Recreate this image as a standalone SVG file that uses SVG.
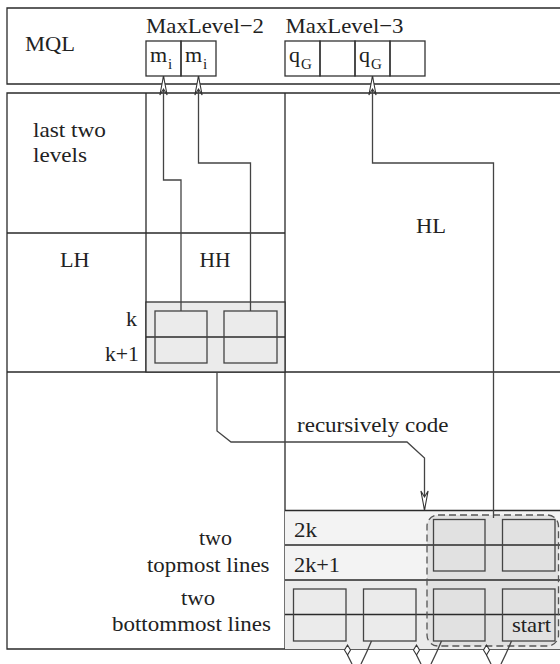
<svg xmlns="http://www.w3.org/2000/svg" width="560" height="664" viewBox="0 0 560 664" font-family="'Liberation Serif', 'Times New Roman', serif">
<defs>
<style>
text{font-family:'Liberation Serif','Times New Roman',serif;font-size:22px;fill:#222}
.st{fill:none;stroke:#2a2a2a;stroke-width:1.3}
.box{fill:none;stroke:#333;stroke-width:1.3}
.ib{fill:none;stroke:#444;stroke-width:1.3}
.cn{fill:none;stroke:#444;stroke-width:1.3}
.sub{font-size:15px}
</style>
<marker id="ah" markerUnits="userSpaceOnUse" markerWidth="30" markerHeight="30" refX="0" refY="0" orient="auto" overflow="visible">
<path d="M0,0 L-19,-3.6 L-13,0 L-19,3.6 Z" fill="#fff" stroke="#333" stroke-width="1.1" stroke-linejoin="miter"/>
</marker>
</defs>
<rect width="560" height="664" fill="#fff"/>

<g id="mql">
<path class="st" d="M561,8 H7 V84 H561"/>
<text x="25" y="51" textLength="50" lengthAdjust="spacingAndGlyphs">MQL</text>
<text x="146" y="33" textLength="118" lengthAdjust="spacingAndGlyphs">MaxLevel−2</text>
<text x="285.5" y="33" textLength="118" lengthAdjust="spacingAndGlyphs">MaxLevel−3</text>
</g>
<g id="mi-array">
<rect class="box" x="146" y="41" width="35" height="35"/>
<rect class="box" x="181" y="41" width="35" height="35"/>
<text x="150" y="62">m</text><text class="sub" x="168" y="69">i</text>
<text x="185" y="62">m</text><text class="sub" x="203" y="69">i</text>
</g>
<g id="qg-array">
<rect class="box" x="285" y="41" width="35" height="35"/>
<rect class="box" x="320" y="41" width="35" height="35"/>
<rect class="box" x="355" y="41" width="35" height="35"/>
<rect class="box" x="390" y="41" width="35" height="35"/>
<text x="289" y="62">q</text><text class="sub" x="301" y="69">G</text>
<text x="359" y="62">q</text><text class="sub" x="371" y="69">G</text>
</g>

<g id="frame">
<path class="st" d="M561,93 H7 V649 H561"/>
<path class="st" d="M146,93 V372 M285,93 V649 M7,233 H285 M7,372 H561"/>
</g>
<g id="last-two-levels">
<text x="33" y="137" textLength="73" lengthAdjust="spacingAndGlyphs">last two</text>
<text x="33" y="162" textLength="54" lengthAdjust="spacingAndGlyphs">levels</text>
</g>
<g id="LH"><text x="60" y="267" textLength="29.5" lengthAdjust="spacingAndGlyphs">LH</text></g>
<g id="HH"><text x="199.5" y="267" textLength="31" lengthAdjust="spacingAndGlyphs">HH</text></g>
<g id="HL"><text x="416" y="233" textLength="30" lengthAdjust="spacingAndGlyphs">HL</text></g>

<g id="hh-lines">
<rect x="146" y="302" width="139" height="70" fill="#ebebeb" stroke="#333" stroke-width="1.3"/>
<path class="st" d="M146,337 H285"/>
<rect class="ib" x="155" y="311" width="52" height="52"/>
<rect class="ib" x="224" y="311" width="53" height="52"/>
<text x="137" y="326" text-anchor="end">k</text>
<text x="139" y="361" text-anchor="end" textLength="34" lengthAdjust="spacingAndGlyphs">k+1</text>
</g>

<g id="bottom-block">
<rect x="285" y="510.5" width="276" height="70" fill="#f3f3f3"/>
<rect x="285" y="580" width="276" height="69" fill="#ebebeb"/>
<rect x="427" y="515" width="131.5" height="131" rx="11" fill="#e1e1e1"/>
<path class="st" d="M285,510.5 H561 M285,545 H561 M285,580 H561 M285,614.5 H561"/>
<rect class="ib" x="433.5" y="519.5" width="51.5" height="51.5" fill="#dedede"/>
<rect class="ib" x="502.5" y="519.5" width="52.5" height="51.5" fill="#dedede"/>
<rect class="ib" x="293.5" y="589" width="52.5" height="52"/>
<rect class="ib" x="363.5" y="589" width="52.5" height="52"/>
<rect class="ib" x="433.5" y="589" width="51.5" height="52" fill="#dedede"/>
<rect class="ib" x="502.5" y="589" width="52.5" height="52" fill="#dedede"/>
<rect x="427" y="515" width="131.5" height="131" rx="11" fill="none" stroke="#555" stroke-width="1.3" stroke-dasharray="7,4"/>
<text x="294" y="537" textLength="23" lengthAdjust="spacingAndGlyphs">2k</text>
<text x="294" y="572" textLength="46" lengthAdjust="spacingAndGlyphs">2k+1</text>
<text x="551" y="632" text-anchor="end" textLength="39" lengthAdjust="spacingAndGlyphs">start</text>
</g>
<g id="left-labels">
<text x="199" y="545" textLength="33" lengthAdjust="spacingAndGlyphs">two</text>
<text x="147" y="572" textLength="122.5" lengthAdjust="spacingAndGlyphs">topmost lines</text>
<text x="181" y="605" textLength="34" lengthAdjust="spacingAndGlyphs">two</text>
<text x="112" y="631" textLength="159" lengthAdjust="spacingAndGlyphs">bottommost lines</text>
</g>
<g id="recursively-code"><text x="297" y="432" textLength="151.5" lengthAdjust="spacingAndGlyphs">recursively code</text></g>

<g id="connectors">
<path class="cn" d="M181,311 V180 H163.5 V76" marker-end="url(#ah)"/>
<path class="cn" d="M250.5,311 V163 H198.5 V76" marker-end="url(#ah)"/>
<path class="cn" d="M493.5,518 V163 H372.5 V76" marker-end="url(#ah)"/>
<path class="cn" d="M217,372 V431 L231,442 H407 L424.5,458 V510" marker-end="url(#ah)"/>
<path class="cn" d="M371.5,641 Q367,652 361,664 M441.5,641 Q437,652 431,664 M511.5,641 Q507,652 501,664"/>
<path class="cn" d="M347.5,655 Q350,660 352,664 M416.5,655 Q419,660 421,664 M486.5,655 Q489,660 491,664"/>
<path d="M347.5,645 L350.5,650 L347.5,655 L344.5,650 Z M416.5,645 L419.5,650 L416.5,655 L413.5,650 Z M486.5,645 L489.5,650 L486.5,655 L483.5,650 Z" fill="#fff" stroke="#333" stroke-width="1.1"/>
</g>
</svg>
